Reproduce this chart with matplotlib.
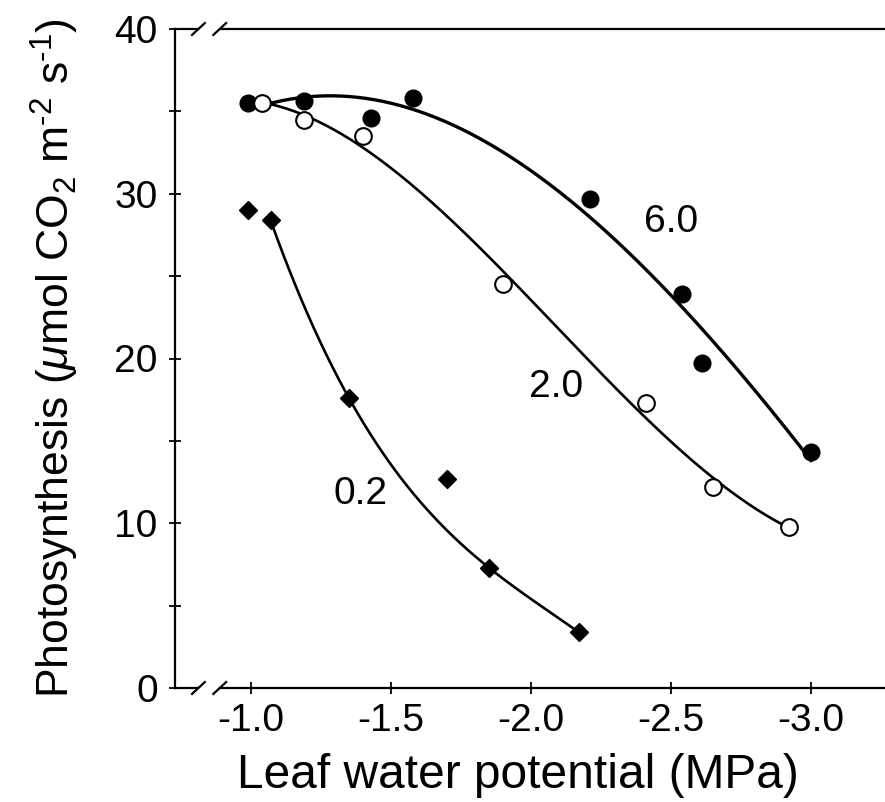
import numpy as np
import matplotlib
matplotlib.use("Agg")
import matplotlib.pyplot as plt

plt.rcParams["font.family"] = ["Liberation Sans", "DejaVu Sans"]
plt.rcParams["mathtext.fontset"] = "custom"
plt.rcParams["mathtext.rm"] = "Liberation Sans"
plt.rcParams["mathtext.it"] = "Liberation Sans:italic"

# leaf water potential (MPa) and photosynthesis, per VPD group
psi_60 = [-0.99, -1.19, -1.43, -1.58, -2.21, -2.54, -2.61, -3.00]
ps_60 = [35.5, 35.6, 34.6, 35.8, 29.7, 23.9, 19.7, 14.3]

psi_20 = [-1.04, -1.19, -1.40, -1.90, -2.41, -2.65, -2.92]
ps_20 = [35.5, 34.5, 33.5, 24.5, 17.3, 12.2, 9.8]

psi_02 = [-0.99, -1.07, -1.35, -1.70, -1.85, -2.17]
ps_02 = [29.0, 28.4, 17.6, 12.7, 7.3, 3.4]
fit_idx_02 = [1, 2, 4, 5]  # points the drawn 0.2 curve follows

curve_labels = ["6.0", "2.0", "0.2"]
label_pos = [(-2.50, 28.3), (-2.09, 18.3), (-1.39, 11.8)]


def fit_curve(x, y, x0, x1, deg=3):
    coef = np.polyfit(x, y, deg)
    xs = np.linspace(x0, x1, 200)
    return xs, np.polyval(coef, xs)


fig = plt.figure(figsize=(8.85, 8.02), dpi=100)
ax = fig.add_axes([175 / 885, 1 - 688 / 802, 1 - 175 / 885, (688 - 29) / 802])

xs, ys = fit_curve(psi_60, ps_60, psi_60[0], psi_60[-1])
ax.plot(xs, ys, color="black", lw=2.4)
xs, ys = fit_curve(psi_20, ps_20, psi_20[0], psi_20[-1])
ax.plot(xs, ys, color="black", lw=1.9)
xs, ys = fit_curve([psi_02[i] for i in fit_idx_02], [ps_02[i] for i in fit_idx_02],
                   psi_02[1], psi_02[-1])
ax.plot(xs, ys, color="black", lw=1.9)

ax.plot(psi_60, ps_60, "o", color="black", ms=12, zorder=3)
ax.plot(psi_20, ps_20, "o", mfc="white", mec="black", mew=1.5, ms=12, zorder=3)
ax.plot(psi_02, ps_02, "D", color="black", ms=9, zorder=3)

for lab, (lx, ly) in zip(curve_labels, label_pos):
    ax.text(lx, ly, lab, fontsize=28, ha="center", va="center")

ax.set_xlim(-0.729, -3.264)
ax.set_ylim(0, 40)
ax.set_xticks([-1.0, -1.5, -2.0, -2.5, -3.0])
ax.set_xticklabels(["-1.0", "-1.5", "-2.0", "-2.5", "-3.0"])
ax.set_yticks([0, 10, 20, 30, 40])
ax.set_yticks([5, 15, 25, 35], minor=True)
ax.tick_params(axis="both", which="both", direction="inout", length=9, width=1.3,
               labelsize=28)
ax.tick_params(axis="x", pad=6)
ax.tick_params(axis="y", pad=8)
ax.tick_params(axis="x", which="minor", length=0)

for side in ["top", "bottom", "right"]:
    ax.spines[side].set_visible(False)
ax.spines["left"].set_linewidth(1.6)

# broken horizontal axis lines at bottom and top
b0, b1 = 0.033, 0.063
for yy in (0.0, 1.0):
    ax.plot([0, b0], [yy, yy], color="black", lw=1.6, transform=ax.transAxes, clip_on=False)
    ax.plot([b1, 1.0], [yy, yy], color="black", lw=1.6, transform=ax.transAxes, clip_on=False)
    for bx in (b0, b1):
        ax.plot([bx - 0.009, bx + 0.009], [yy - 0.009, yy + 0.009], color="black", lw=1.6,
                transform=ax.transAxes, clip_on=False)

ax.set_xlabel("Leaf water potential (MPa)", fontsize=34.5)
ax.xaxis.set_label_coords(0.483, -0.098)
ax.set_ylabel(r"Photosynthesis ($\mu$mol CO$_2$ m$^{\text{-}2}$ s$^{\text{-}1}$)",
              fontsize=32, labelpad=24)

fig.savefig("out.png", dpi=100)
